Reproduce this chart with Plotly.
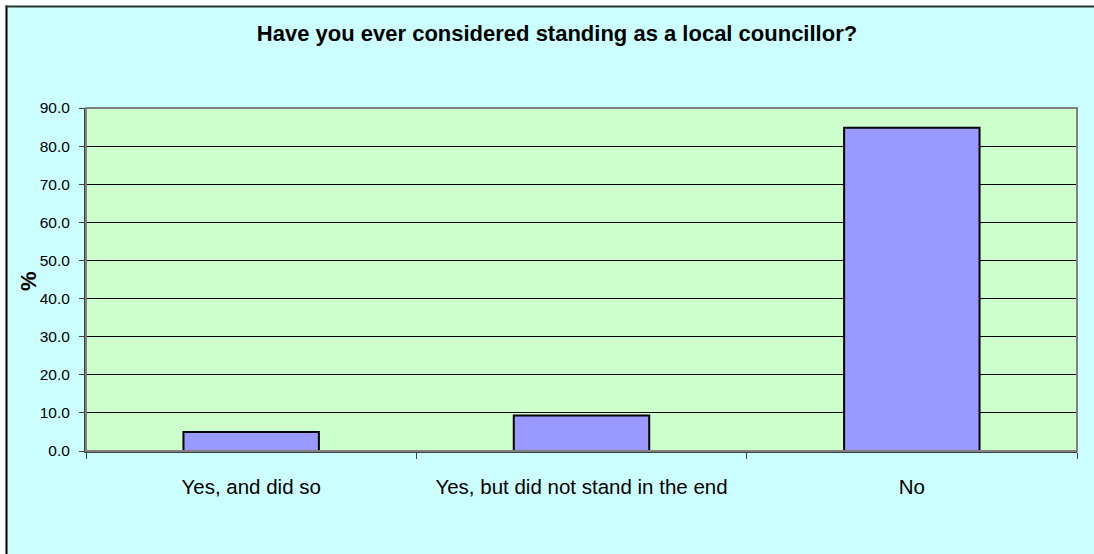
import plotly.graph_objects as go

# Survey responses (% of respondents)
categories = ["Yes, and did so", "Yes, but did not stand in the end", "No"]
percentages = [5.0, 9.3, 84.8]
y_ticks = [0, 10, 20, 30, 40, 50, 60, 70, 80, 90]

title_text = "Have you ever considered standing as a local councillor?"
y_title = "%"

# Figure geometry (pixels)
W, H = 1094, 554
L, R, T, B = 86, 17, 108, 103
PW, PH = W - L - R, H - T - B


def px_x(x):
    return (x - L) / PW


def px_y(y):
    return (H - B - y) / PH


FONT = "Liberation Sans, Arial, sans-serif"

fig = go.Figure(
    go.Bar(
        x=categories,
        y=percentages,
        marker=dict(color="#9999FF", line=dict(color="#000000", width=2)),
        hoverinfo="x+y",
    )
)

shapes = [
    # plot-area frame (top / right)
    dict(type="rect", xref="paper", yref="paper", x0=0, y0=0, x1=1, y1=1,
         line=dict(color="#808080", width=2), layer="above"),
    # white margin outside the chart border
    dict(type="rect", xref="paper", yref="paper",
         x0=px_x(-20), x1=px_x(5.5), y0=px_y(-20), y1=px_y(620),
         fillcolor="#FFFFFF", line=dict(width=0), layer="above"),
    dict(type="rect", xref="paper", yref="paper",
         x0=px_x(-20), x1=px_x(1120), y0=px_y(-20), y1=px_y(5.5),
         fillcolor="#FFFFFF", line=dict(width=0), layer="above"),
    # chart border lines
    dict(type="line", xref="paper", yref="paper",
         x0=px_x(6.5), x1=px_x(6.5), y0=px_y(5.5), y1=px_y(620),
         line=dict(color="#000000", width=2), layer="above"),
    dict(type="line", xref="paper", yref="paper",
         x0=px_x(5.5), x1=px_x(1120), y0=px_y(6.5), y1=px_y(6.5),
         line=dict(color="#333333", width=2), layer="above"),
]

fig.update_layout(
    width=W,
    height=H,
    margin=dict(l=L, r=R, t=T, b=B, pad=0),
    paper_bgcolor="#CCFFFF",
    plot_bgcolor="#CCFFCC",
    bargap=0.59,
    showlegend=False,
    font=dict(family=FONT, color="#000000"),
    title=dict(
        text="<b>" + title_text + "</b>",
        font=dict(family=FONT, size=22, color="#000000"),
        x=px_x(557),
        xanchor="center",
        xref="paper",
        y=1 - 33 / H,
        yanchor="middle",
    ),
    shapes=shapes,
    annotations=[
        dict(
            text="<b>" + y_title + "</b>",
            xref="paper", yref="paper",
            x=px_x(28), y=px_y(281),
            xanchor="center", yanchor="middle",
            textangle=-90,
            showarrow=False,
            font=dict(family=FONT, size=22, color="#000000"),
        )
    ],
)

fig.update_xaxes(
    type="category",
    range=[-0.5, 2.5],
    showline=True,
    linecolor="#404040",
    linewidth=2,
    ticks="outside",
    tickson="boundaries",
    ticklen=6,
    tickcolor="#404040",
    tickwidth=1,
    showgrid=False,
    tickfont=dict(family=FONT, size=20.5, color="#000000"),
    ticklabelstandoff=16,
)
fig.update_yaxes(
    range=[0, 90],
    tickvals=y_ticks,
    ticktext=[f"{v:.1f}" for v in y_ticks],
    showline=True,
    linecolor="#404040",
    linewidth=2,
    ticks="outside",
    ticklen=5,
    tickcolor="#404040",
    tickwidth=1,
    showgrid=True,
    gridcolor="#000000",
    gridwidth=1,
    zeroline=False,
    tickfont=dict(family=FONT, size=15.5, color="#000000"),
    ticklabelstandoff=6,
)

fig.write_html("out.html")
